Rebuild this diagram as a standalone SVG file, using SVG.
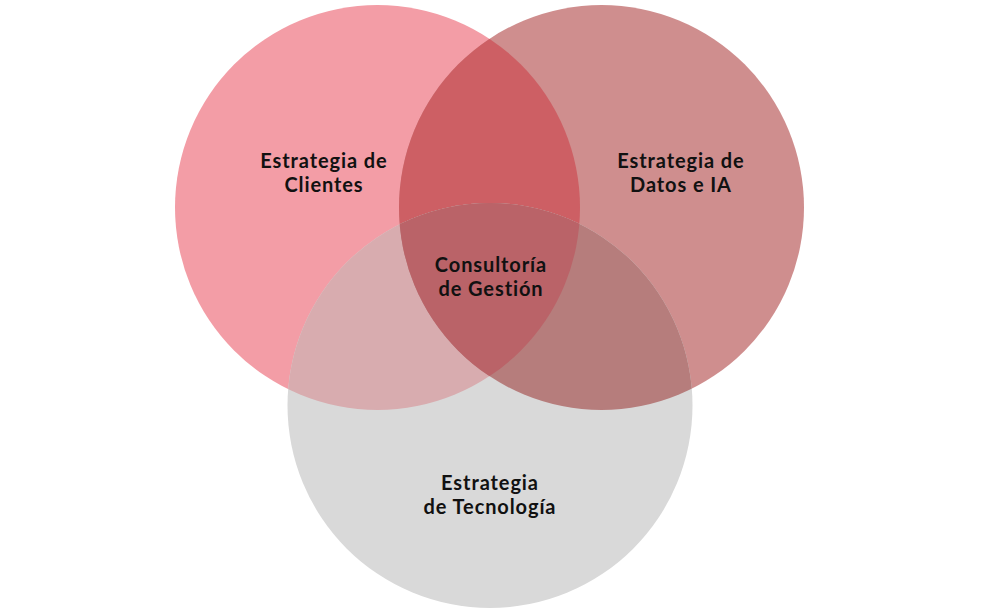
<svg xmlns="http://www.w3.org/2000/svg" width="986" height="615" viewBox="0 0 986 615">
<style>
.t{font-family:"Lato","Liberation Sans",sans-serif;font-size:20px;font-weight:bold;fill:#111;text-anchor:middle;letter-spacing:0.9px}
</style>
<defs>
<circle id="cL" cx="377.5" cy="207.5" r="202.5"/>
<circle id="cR" cx="601.5" cy="207.5" r="202.5"/>
<circle id="cB" cx="490" cy="405.5" r="202.5"/>
<clipPath id="clipL"><use href="#cL"/></clipPath>
<clipPath id="clipR"><use href="#cR"/></clipPath>
<clipPath id="clipB"><use href="#cB"/></clipPath>
</defs>
<rect width="986" height="615" fill="#fff"/>
<g id="clientes">
<use href="#cL" fill="#F39DA6"/>
</g>
<g id="datos">
<use href="#cR" fill="#CF8E8E"/>
<g clip-path="url(#clipL)"><use href="#cR" fill="#CD5F64"/></g>
</g>
<g id="tecnologia">
<use href="#cB" fill="#D9D9D9"/>
<g clip-path="url(#clipL)"><use href="#cB" fill="#D8ACAF"/></g>
<g clip-path="url(#clipR)"><use href="#cB" fill="#B67D7C"/></g>
<g clip-path="url(#clipL)"><g clip-path="url(#clipR)"><use href="#cB" fill="#BA6368"/></g></g>
</g>
<g id="labels">
<text class="t" x="324" y="168">Estrategia de</text>
<text class="t" x="324" y="192">Clientes</text>
<text class="t" x="681" y="168">Estrategia de</text>
<text class="t" x="681" y="192">Datos e IA</text>
<text class="t" x="491" y="272">Consultoría</text>
<text class="t" x="491" y="296">de Gestión</text>
<text class="t" x="490" y="490">Estrategia</text>
<text class="t" x="490" y="514">de Tecnología</text>
</g>
<g id="connectors"/>
</svg>
